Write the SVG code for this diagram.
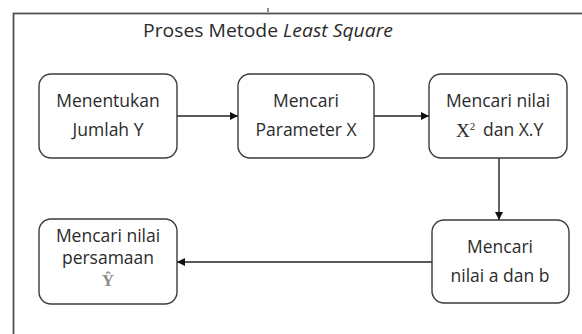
<svg xmlns="http://www.w3.org/2000/svg" width="582" height="334" viewBox="0 0 582 334">
<defs>
<marker id="ah" viewBox="0 0 10 10" refX="10" refY="5" markerWidth="9" markerHeight="8" markerUnits="userSpaceOnUse" orient="auto">
<path d="M0,0 L10,5 L0,10 z" fill="#111"/>
</marker>
</defs>
<style>
.box{fill:#fff;stroke:#3a3a3a;stroke-width:1.4}
.t{font-family:"Open Sans","Liberation Sans",sans-serif;font-size:17.5px;fill:#2b2b2b;text-anchor:middle}
.m{font-family:"Liberation Serif","DejaVu Serif",serif;fill:#2b2b2b}
.c{stroke:#222;stroke-width:1.4;fill:none;marker-end:url(#ah)}
</style>
<rect width="582" height="334" fill="#fff"/>
<rect id="frame" x="13.5" y="13.5" width="620" height="400" fill="none" stroke="#505050" stroke-width="1.8"/>
<line x1="268" y1="8" x2="268" y2="12" stroke="#444" stroke-width="1.2"/>
<text x="268" y="37" class="t" textLength="250" lengthAdjust="spacingAndGlyphs" style="font-size:18.5px">Proses Metode <tspan font-style="italic">Least Square</tspan></text>

<g id="connectors">
<line class="c" x1="177" y1="116" x2="238" y2="116"/>
<line class="c" x1="374" y1="116" x2="429" y2="116"/>
<line class="c" x1="499" y1="158" x2="499" y2="220"/>
<line class="c" x1="432" y1="262" x2="177" y2="262"/>
</g>

<g id="n1">
<rect class="box" x="39" y="74" width="138" height="84" rx="12"/>
<text class="t" x="108" y="107">Menentukan</text>
<text class="t" x="108" y="136">Jumlah Y</text>
</g>
<g id="n2">
<rect class="box" x="238" y="74" width="136" height="84" rx="12"/>
<text class="t" x="306" y="107">Mencari</text>
<text class="t" x="306" y="136">Parameter X</text>
</g>
<g id="n3">
<rect class="box" x="429" y="74" width="138" height="84" rx="12"/>
<text class="t" x="498" y="107">Mencari nilai</text>
<text x="456" y="137" class="m" font-size="19">X<tspan font-size="11" dy="-7">2</tspan></text>
<text class="t" x="483" y="136" style="text-anchor:start">dan X.Y</text>
</g>
<g id="n4">
<rect class="box" x="432" y="220" width="137" height="83" rx="12"/>
<text class="t" x="500" y="253">Mencari</text>
<text class="t" x="500" y="282">nilai a dan b</text>
</g>
<g id="n5">
<rect class="box" x="39" y="219" width="138" height="85" rx="12"/>
<text class="t" x="108" y="242">Mencari nilai</text>
<text class="t" x="108" y="264">persamaan</text>
<text x="108" y="286" class="m" font-size="17" font-weight="bold" text-anchor="middle" style="fill:#8c8c8c">Ŷ</text>
</g>
</svg>
